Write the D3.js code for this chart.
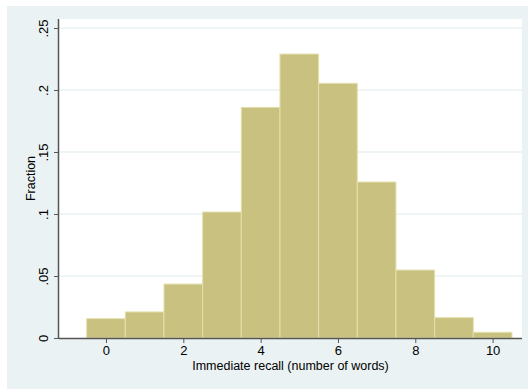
<!DOCTYPE html>
<html>
<head>
<meta charset="utf-8">
<script src="https://cdn.jsdelivr.net/npm/d3@7"></script>
<style>
	body { margin: 0; background: #ffffff; }
	text { font-family: "Liberation Sans", Arial, sans-serif; fill: #000; }
</style>
</head>
<body>
<svg id="svgarea" width="528" height="389"></svg>
<script>
// histogram bins (number of words) and the fraction in each
const words		= [0, 1, 2, 3, 4, 5, 6, 7, 8, 9, 10];
const fraction	= [0.0156, 0.021, 0.0435, 0.1016, 0.186, 0.229, 0.2054, 0.1258, 0.0548, 0.0164, 0.0046];
const xTicks	= [0, 2, 4, 6, 8, 10];
const yTicks	= [0, 0.05, 0.1, 0.15, 0.2, 0.25];
const yLabels	= ['0', '.05', '.1', '.15', '.2', '.25'];

var svg = d3.select('#svgarea');

// outer (graph) region
svg.append('rect').attr('x', 7).attr('y', 6).attr('width', 521).attr('height', 383).attr('fill', '#eaf2f3');

// plot region
var plotLeft = 59, plotRight = 522, plotTop = 19, plotBottom = 338;
svg.append('rect').attr('x', plotLeft).attr('y', plotTop)
	.attr('width', plotRight - plotLeft).attr('height', plotBottom - plotTop).attr('fill', '#ffffff');

var x = d3.scaleLinear().domain([-1.215, 10.76]).range([plotLeft, plotRight]);
var y = d3.scaleLinear().domain([0, 0.25]).range([plotBottom, 28]);

// grid lines
svg.append('g').selectAll('line')
	.data(yTicks.slice(1))
	.enter().append('line')
	.attr('x1', plotLeft).attr('x2', plotRight)
	.attr('y1', d => y(d)).attr('y2', d => y(d))
	.attr('stroke', '#eaf2f3').attr('stroke-width', 1.5);

// bars
svg.append('g').selectAll('rect')
	.data(words)
	.enter().append('rect')
	.attr('x', d => x(d - 0.5))
	.attr('width', d => x(d + 0.5) - x(d - 0.5))
	.attr('y', (d, i) => y(fraction[i]))
	.attr('height', (d, i) => y(0) - y(fraction[i]))
	.attr('fill', '#c9c17f')
	.attr('stroke', '#e4e0ad')
	.attr('stroke-width', 1);

// x axis
var xAxis = svg.append('g').attr('transform', 'translate(0,' + plotBottom + ')')
	.call(d3.axisBottom(x).tickValues(xTicks).tickFormat(d3.format('d')).tickSize(5).tickPadding(3));
xAxis.select('.domain').attr('d', 'M' + plotLeft + ',0.5H' + plotRight).attr('stroke', '#555').attr('stroke-width', 1.5);
xAxis.selectAll('.tick line').attr('stroke', '#555');
xAxis.selectAll('.tick text').attr('font-size', 13).attr('font-family', '"Liberation Sans", Arial, sans-serif').attr('fill', '#000');

// y axis
var yAxis = svg.append('g').attr('transform', 'translate(' + plotLeft + ',0)')
	.call(d3.axisLeft(y).tickValues(yTicks).tickFormat((d, i) => yLabels[i]).tickSize(5));
yAxis.select('.domain').attr('d', 'M-0.5,' + plotTop + 'V' + plotBottom).attr('stroke', '#555').attr('stroke-width', 1.5);
yAxis.selectAll('.tick line').attr('stroke', '#555');
yAxis.selectAll('.tick text')
	.attr('x', 0).attr('dy', 0)
	.attr('transform', 'translate(-11,0) rotate(-90)')
	.attr('text-anchor', 'middle')
	.attr('font-size', 13).attr('font-family', '"Liberation Sans", Arial, sans-serif').attr('fill', '#000');

// axis titles
svg.append('text')
	.attr('x', (plotLeft + plotRight) / 2).attr('y', 370)
	.attr('text-anchor', 'middle').attr('font-size', 12.5)
	.text('Immediate recall (number of words)');
svg.append('text')
	.attr('transform', 'translate(35,' + ((plotTop + plotBottom) / 2) + ') rotate(-90)')
	.attr('text-anchor', 'middle').attr('font-size', 12.5)
	.text('Fraction');
</script>
</body>
</html>
